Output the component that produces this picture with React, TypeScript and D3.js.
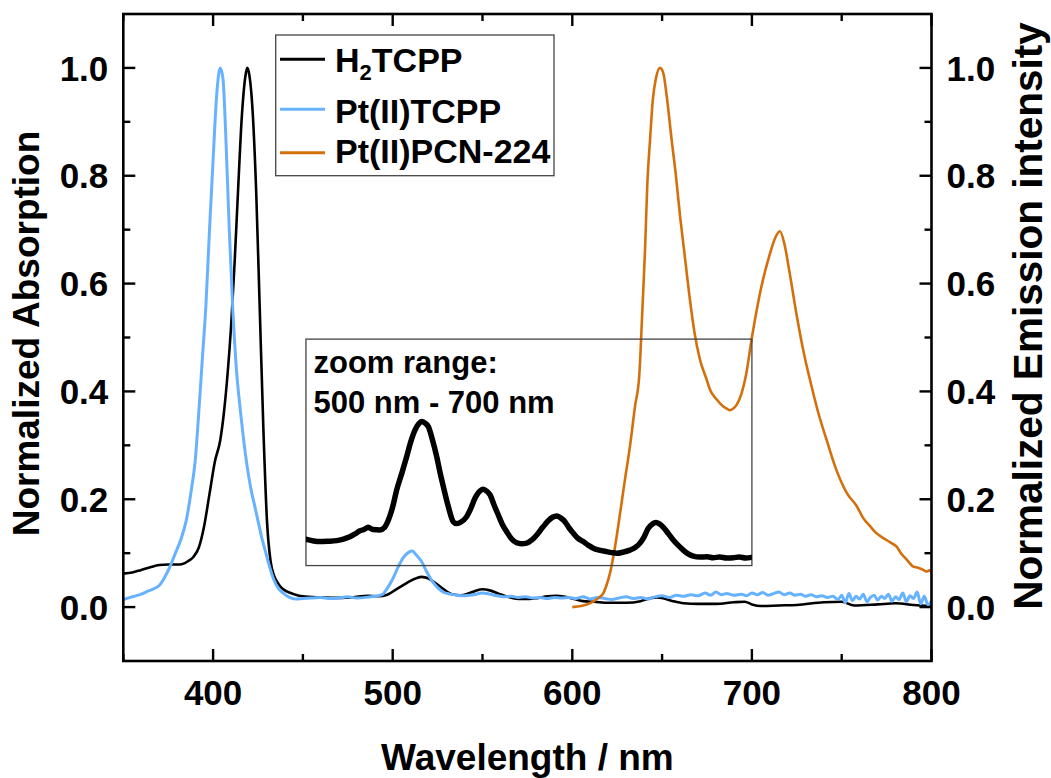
import React from 'react';
import * as d3 from 'd3';

// ---------- DATA ----------
// H2TCPP absorption (nm, normalized)
const h2tcpp: [number, number][] = [
  [350, 0.062], [355, 0.064], [360, 0.069], [365, 0.074], [370, 0.078], [375, 0.079],
  [380, 0.079], [383, 0.080], [386, 0.085], [389, 0.093], [392, 0.11], [395, 0.15],
  [398, 0.21], [401, 0.27], [404, 0.31], [406, 0.36], [408, 0.43], [410, 0.52],
  [412, 0.64], [414, 0.78], [416, 0.91], [418, 0.985], [419, 1.0], [420, 0.99],
  [422, 0.92], [424, 0.77], [426, 0.55], [428, 0.33], [430, 0.16], [432, 0.085],
  [434, 0.058], [436, 0.045], [438, 0.036], [441, 0.029], [445, 0.024], [450, 0.02],
  [460, 0.018], [470, 0.017], [480, 0.019], [486, 0.021], [492, 0.02], [497, 0.023],
  [502, 0.033], [508, 0.045], [512, 0.052], [516, 0.056], [520, 0.053], [524, 0.044],
  [528, 0.034], [533, 0.024], [538, 0.022], [542, 0.025], [546, 0.03], [550, 0.033],
  [554, 0.031], [559, 0.025], [564, 0.019], [570, 0.015], [576, 0.015], [581, 0.017],
  [586, 0.02], [591, 0.021], [596, 0.019], [601, 0.015], [606, 0.011], [612, 0.01],
  [620, 0.008], [630, 0.008], [638, 0.011], [643, 0.016], [647, 0.018], [651, 0.016],
  [656, 0.011], [662, 0.007], [670, 0.006], [680, 0.006], [690, 0.009], [696, 0.01],
  [700, 0.005], [705, 0.002], [715, 0.003], [725, 0.004], [740, 0.009], [750, 0.01],
  [757, 0.003], [770, 0.005], [780, 0.007], [790, 0.004], [800, 0.002],
];

// Pt(II)TCPP absorption (nm, normalized)
const ptTcpp: [number, number][] = [
  [350, 0.014], [353, 0.017], [356, 0.02], [360, 0.024], [364, 0.03], [367, 0.034],
  [370, 0.04], [373, 0.055], [376, 0.075], [379, 0.1], [382, 0.125], [385, 0.16],
  [388, 0.22], [390, 0.27], [392, 0.36], [394, 0.46], [396, 0.56], [398, 0.7],
  [400, 0.83], [402, 0.95], [404, 1.0], [405.5, 0.98], [407, 0.88], [409, 0.7],
  [411, 0.55], [413, 0.44], [415, 0.37], [417, 0.31], [419, 0.26], [421, 0.22],
  [423, 0.19], [425, 0.16], [427, 0.13], [429, 0.105], [431, 0.08], [433, 0.058],
  [435, 0.042], [437, 0.032], [439, 0.026], [442, 0.019], [446, 0.015], [450, 0.016],
  [455, 0.017], [460, 0.018], [465, 0.016], [470, 0.017], [475, 0.019], [480, 0.017],
  [485, 0.018], [490, 0.02], [494, 0.023], [497, 0.035], [500, 0.052], [503, 0.074],
  [506, 0.092], [509, 0.102], [511, 0.104], [513, 0.097], [516, 0.085], [519, 0.065],
  [522, 0.048], [525, 0.036], [528, 0.028], [532, 0.024], [536, 0.022], [540, 0.021],
  [545, 0.023], [550, 0.026], [554, 0.024], [558, 0.021], [562, 0.019], [566, 0.02],
  [570, 0.018], [574, 0.019], [578, 0.017], [582, 0.018], [586, 0.016], [590, 0.018],
  [594, 0.017], [598, 0.018], [602, 0.016], [606, 0.019], [610, 0.015], [614, 0.018],
  [618, 0.016], [622, 0.014], [626, 0.017], [630, 0.019], [634, 0.016], [638, 0.018],
  [642, 0.015], [646, 0.019], [650, 0.021], [654, 0.018], [658, 0.022], [662, 0.02],
  [666, 0.023], [670, 0.021], [674, 0.026], [677, 0.022], [680, 0.028], [683, 0.023],
  [686, 0.025], [690, 0.022], [694, 0.024], [697, 0.021], [700, 0.026], [703, 0.023],
  [706, 0.027], [709, 0.022], [712, 0.025], [715, 0.028], [718, 0.023], [721, 0.026],
  [724, 0.022], [727, 0.024], [730, 0.02], [733, 0.023], [736, 0.019], [739, 0.021],
  [742, 0.018], [745, 0.02], [748, 0.014], [750, 0.022], [752, 0.008], [754, 0.025],
  [756, 0.012], [758, 0.02], [760, 0.015], [762, 0.024], [764, 0.01], [766, 0.018],
  [768, 0.022], [770, 0.013], [772, 0.02], [774, 0.016], [776, 0.024], [778, 0.011],
  [780, 0.019], [782, 0.014], [784, 0.026], [786, 0.01], [788, 0.021], [790, 0.016],
  [792, 0.028], [794, 0.006], [796, 0.02], [798, 0.004], [800, 0.012],
];

// Pt(II)PCN-224 emission (nm, normalized)
const ptPcn: [number, number][] = [
  [600, 0.0], [605, 0.002], [609, 0.006], [612, 0.011], [615, 0.018], [617.3, 0.026],
  [619, 0.04], [621, 0.063], [623.8, 0.112], [626.6, 0.174], [629.3, 0.236],
  [632.1, 0.298], [634.9, 0.372], [637.3, 0.43], [639, 0.55], [640.5, 0.663],
  [641.8, 0.787], [643.3, 0.867], [644.8, 0.94], [646.6, 0.981], [648.8, 1.0],
  [650.7, 0.99], [652.6, 0.947], [655.3, 0.867], [657.7, 0.8], [660, 0.725],
  [662.2, 0.663], [665.5, 0.57], [668, 0.51], [671, 0.46], [674.8, 0.422],
  [676.7, 0.403], [680.4, 0.385], [684.1, 0.372], [686, 0.368], [687.8, 0.365],
  [689.5, 0.368], [691.5, 0.375], [694.3, 0.397], [696.7, 0.43], [700, 0.5],
  [705, 0.59], [710, 0.655], [713, 0.685], [715.6, 0.697], [718, 0.675],
  [721, 0.62], [725, 0.54], [729, 0.47], [732.3, 0.422], [737, 0.36],
  [741.6, 0.31], [746.3, 0.261], [752.8, 0.212], [758.4, 0.187], [762, 0.165],
  [765.8, 0.15], [769, 0.138], [773.2, 0.128], [777, 0.12], [780.6, 0.112],
  [783, 0.1], [786.2, 0.088], [789.9, 0.075], [792.5, 0.073], [795.4, 0.069],
  [797, 0.066], [799, 0.068], [800, 0.064],
];

// Zoomed H2TCPP Q-band region shown in the inset (nm, absorption)
const h2tcppZoom: [number, number][] = [
  [452, 0.0172], [456, 0.0167], [459.5, 0.0165], [464, 0.0166], [468.8, 0.0168],
  [472, 0.0172], [476.2, 0.018], [479, 0.0189], [481.8, 0.0199], [484, 0.0203],
  [486.4, 0.021], [489, 0.0203], [492.9, 0.0202], [495.5, 0.021], [497.6, 0.0233],
  [500, 0.0275], [502.2, 0.0328], [505, 0.038], [507.8, 0.0434], [510, 0.048],
  [512.4, 0.0518], [514.5, 0.0538], [516.1, 0.0545], [518, 0.054], [519.8, 0.0529],
  [522, 0.049], [524.5, 0.0434], [526.5, 0.038], [528.2, 0.0339], [531, 0.0275],
  [533.7, 0.0228], [535.5, 0.0222], [537.5, 0.0225], [541.2, 0.0244], [543.5, 0.027],
  [545.8, 0.0302], [548, 0.0322], [550.4, 0.0331], [552.3, 0.0325], [554.2, 0.0313],
  [556.5, 0.028], [558.8, 0.0249], [561, 0.022], [563.5, 0.0196], [566, 0.0175],
  [569, 0.0161], [571.5, 0.0158], [574.6, 0.016], [577.5, 0.017], [580.2, 0.0186],
  [583.5, 0.021], [586.6, 0.0231], [589, 0.0242], [591.3, 0.0246], [593.5, 0.024],
  [595.9, 0.0228], [598, 0.021], [600.6, 0.0191], [603, 0.0176], [606.1, 0.0165],
  [609, 0.0153], [611.7, 0.0144], [615, 0.0138], [619.2, 0.0133], [622, 0.013],
  [624.7, 0.0128], [628, 0.0131], [632.1, 0.0138], [635, 0.0146], [637.7, 0.016],
  [640, 0.018], [642.3, 0.0207], [644.5, 0.022], [646.6, 0.0225], [648.5, 0.0221],
  [650.7, 0.021], [653.5, 0.019], [656.2, 0.017], [659, 0.0153], [661.8, 0.0138],
  [664.5, 0.0126], [667.4, 0.0119], [671, 0.0116], [675, 0.0117], [678.5, 0.0114],
  [682, 0.0116], [686, 0.0113], [689.7, 0.0114], [693, 0.0116], [696.5, 0.0113],
  [700, 0.0115],
];

const xMajorTicks = [400, 500, 600, 700, 800];
const xMinorTicks = [350, 450, 550, 650, 750];
const yMajorTicks = [0, 0.2, 0.4, 0.6, 0.8, 1.0];
const yMinorTicks = [0.1, 0.3, 0.5, 0.7, 0.9];

const seriesNames = ['H2TCPP', 'Pt(II)TCPP', 'Pt(II)PCN-224'];
const seriesColors = ['#000000', '#66B2FF', '#D4700C'];

const xTitle = 'Wavelength / nm';
const yLeftTitle = 'Normalized Absorption';
const yRightTitle = 'Normalized Emission intensity';
const insetLines = ['zoom range:', '500 nm - 700 nm'];

// ---------- LAYOUT ----------
const W = 1051;
const H = 778;
const PL = 123.3;
const PR = 931.5;
const PT = 14;
const PB = 661;
const FONT = '"Liberation Sans", Arial, Helvetica, sans-serif';

export default function App() {
  const x = d3.scaleLinear().domain([350, 800]).range([PL, PR]);
  const y = d3.scaleLinear().domain([-0.1, 1.1]).range([PB, PT]);

  // inset box in data coordinates of main chart
  const insetX0 = x(451.7);
  const insetX1 = x(700);
  const insetYTop = y(0.497);
  const insetYBot = y(0.077);
  const yInset = d3.scaleLinear().domain([0.0089, 0.0806]).range([insetYBot, insetYTop]);

  const mk = (ys: d3.ScaleLinear<number, number>) =>
    d3.line<[number, number]>().x((d) => x(d[0])).y((d) => ys(d[1])).curve(d3.curveMonotoneX);

  const lineMain = mk(y);
  const lineInset = mk(yInset);

  const majorLen = 12;
  const minorLen = 7;

  return (
    <svg width={W} height={H} style={{ position: 'absolute', left: 0, top: 0, background: '#fff' }}
      fontFamily={FONT} fontWeight="bold">
      <defs>
        <clipPath id="plotClip">
          <rect x={PL} y={PT} width={PR - PL} height={PB - PT} />
        </clipPath>
        <clipPath id="insetClip">
          <rect x={insetX0} y={insetYTop} width={insetX1 - insetX0} height={insetYBot - insetYTop} />
        </clipPath>
      </defs>

      {/* series */}
      <g clipPath="url(#plotClip)" fill="none" strokeLinejoin="round">
        <path d={lineMain(h2tcpp) || ''} stroke={seriesColors[0]} strokeWidth={2.6} />
        <path d={lineMain(ptTcpp) || ''} stroke={seriesColors[1]} strokeWidth={3} />
        <path d={lineMain(ptPcn) || ''} stroke={seriesColors[2]} strokeWidth={2.6} />
      </g>

      {/* inset */}
      <rect x={insetX0} y={insetYTop} width={insetX1 - insetX0} height={insetYBot - insetYTop}
        fill="none" stroke="#444" strokeWidth={1.3} />
      <g clipPath="url(#insetClip)">
        <path d={lineInset(h2tcppZoom) || ''} fill="none" stroke="#000" strokeWidth={5.5}
          strokeLinejoin="round" strokeLinecap="round" />
      </g>
      <text x={insetX0 + 7.5} y={insetYTop + 34} fontSize={31}>{insetLines[0]}</text>
      <text x={insetX0 + 7.5} y={insetYTop + 73.4} fontSize={31}>{insetLines[1]}</text>

      {/* frame */}
      <rect x={PL} y={PT} width={PR - PL} height={PB - PT} fill="none" stroke="#000" strokeWidth={2.6} />

      {/* x ticks */}
      {xMajorTicks.map((t) => (
        <g key={'xM' + t}>
          <line x1={x(t)} x2={x(t)} y1={PB} y2={PB - majorLen} stroke="#000" strokeWidth={2.4} />
          <line x1={x(t)} x2={x(t)} y1={PT} y2={PT + majorLen} stroke="#000" strokeWidth={2.4} />
          <text x={x(t)} y={705} textAnchor="middle" fontSize={35}>{t}</text>
        </g>
      ))}
      {xMinorTicks.map((t) => (
        <g key={'xm' + t}>
          <line x1={x(t)} x2={x(t)} y1={PB} y2={PB - minorLen} stroke="#000" strokeWidth={2.4} />
          <line x1={x(t)} x2={x(t)} y1={PT} y2={PT + minorLen} stroke="#000" strokeWidth={2.4} />
        </g>
      ))}

      {/* y ticks */}
      {yMajorTicks.map((t) => (
        <g key={'yM' + t}>
          <line x1={PL} x2={PL + majorLen} y1={y(t)} y2={y(t)} stroke="#000" strokeWidth={2.4} />
          <line x1={PR} x2={PR - majorLen} y1={y(t)} y2={y(t)} stroke="#000" strokeWidth={2.4} />
          <text x={PL - 15} y={y(t)} dy="0.36em" textAnchor="end" fontSize={35}>{d3.format('.1f')(t)}</text>
          <text x={PR + 15} y={y(t)} dy="0.36em" textAnchor="start" fontSize={35}>{d3.format('.1f')(t)}</text>
        </g>
      ))}
      {yMinorTicks.map((t) => (
        <g key={'ym' + t}>
          <line x1={PL} x2={PL + minorLen} y1={y(t)} y2={y(t)} stroke="#000" strokeWidth={2.4} />
          <line x1={PR} x2={PR - minorLen} y1={y(t)} y2={y(t)} stroke="#000" strokeWidth={2.4} />
        </g>
      ))}

      {/* axis titles */}
      <text x={(PL + PR) / 2} y={770} textAnchor="middle" fontSize={37}>{xTitle}</text>
      <text transform={`translate(39, ${(PT + PB) / 2 - 4}) rotate(-90)`} textAnchor="middle" fontSize={37}>{yLeftTitle}</text>
      <text transform={`translate(1042, 316) rotate(-90)`} textAnchor="middle" fontSize={40.5}>{yRightTitle}</text>

      {/* legend */}
      <rect x={275.7} y={35} width={278.3} height={140.7} fill="#fff" stroke="#444" strokeWidth={1.3} />
      {[59.3, 109.3, 152.7].map((ly, i) => (
        <line key={'lg' + i} x1={280} x2={325} y1={ly} y2={ly} stroke={seriesColors[i]} strokeWidth={3} />
      ))}
      <text x={335} y={71.7} fontSize={34}>
        <tspan>H</tspan>
        <tspan fontSize={22} dy={8.3}>2</tspan>
        <tspan dy={-8.3}>TCPP</tspan>
      </text>
      <text x={335} y={122.7} fontSize={34}>{seriesNames[1]}</text>
      <text x={335} y={163.3} fontSize={34}>{seriesNames[2]}</text>
    </svg>
  );
}
